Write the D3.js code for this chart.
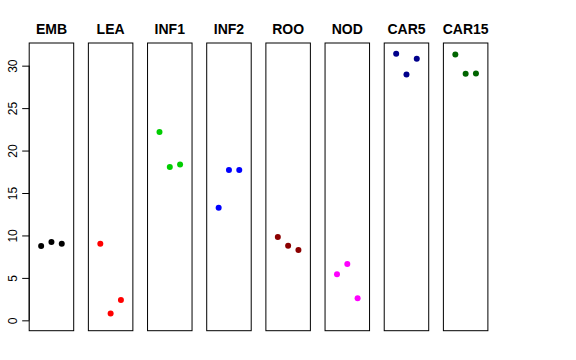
<!DOCTYPE html>
<html>
<head>
<meta charset="utf-8">
<script src="https://cdn.jsdelivr.net/npm/d3@7"></script>
<style>
  html, body { margin: 0; padding: 0; background: #fff; }
  svg { display: block; font-family: "Liberation Sans", Arial, sans-serif; }
</style>
</head>
<body>
<div id="chart"></div>
<script>
// panel names + colours (R colour names)
const panels = ['EMB', 'LEA', 'INF1', 'INF2', 'ROO', 'NOD', 'CAR5', 'CAR15'];
const colors = ['#000000', '#ff0000', '#00cd00', '#0000ff', '#8b0000', '#ff00ff', '#00008b', '#006400'];

// three replicates per panel
const rep1 = [8.75, 9.02, 22.18, 13.26, 9.81, 5.42, 31.40, 31.33];
const rep2 = [9.22, 0.82, 18.06, 17.70, 8.79, 6.63, 28.97, 29.04];
const rep3 = [9.02, 2.39, 18.37, 17.70, 8.28, 2.59, 30.81, 29.08];

const yTicks = [0, 5, 10, 15, 20, 25, 30];

const W = 576, H = 360;
const pTop = 43, pBottom = 330.7;
const left0 = 29.2, pw = 44.5, stride = 59.17;

const svg = d3.select('#chart').append('svg')
  .attr('width', W).attr('height', H).attr('viewBox', `0 0 ${W} ${H}`);

const y = d3.scaleLinear().domain([-1.22, 32.67]).range([pBottom, pTop]);
const x = d3.scaleLinear().domain([-0.16, 4.16]).range([0, pw]);

panels.forEach((name, i) => {
  const g = svg.append('g').attr('transform', `translate(${left0 + i * stride},0)`);
  g.append('rect')
    .attr('x', 0).attr('y', pTop).attr('width', pw).attr('height', pBottom - pTop)
    .attr('fill', 'none').attr('stroke', '#000').attr('stroke-width', 1);

  g.append('text')
    .attr('x', pw / 2).attr('y', 34).attr('text-anchor', 'middle')
    .style('font-size', '14px').style('font-weight', 700)
    .text(name);

  const vals = [rep1[i], rep2[i], rep3[i]];
  g.selectAll('circle').data(vals).join('circle')
    .attr('cx', (d, j) => x(j + 1)).attr('cy', d => y(d))
    .attr('r', 3).attr('fill', colors[i]);
});

// y axis on the first panel only, R style (rotated labels)
const ax = svg.append('g').attr('transform', `translate(${left0},0)`);
ax.call(d3.axisLeft(y).tickValues(yTicks).tickSize(7).tickPadding(4))
  .call(a => a.select('.domain').remove());
ax.append('line')
  .attr('x1', 0).attr('x2', 0).attr('y1', y(0)).attr('y2', y(30)).attr('stroke', '#000');
ax.selectAll('.tick text')
  .style('font-size', '12px').style('font-family', '"Liberation Sans", Arial, sans-serif')
  .attr('x', null).attr('dy', null)
  .attr('text-anchor', 'middle')
  .attr('transform', 'translate(-15,0) rotate(-90)')
  .attr('dominant-baseline', 'middle');
</script>
</body>
</html>
